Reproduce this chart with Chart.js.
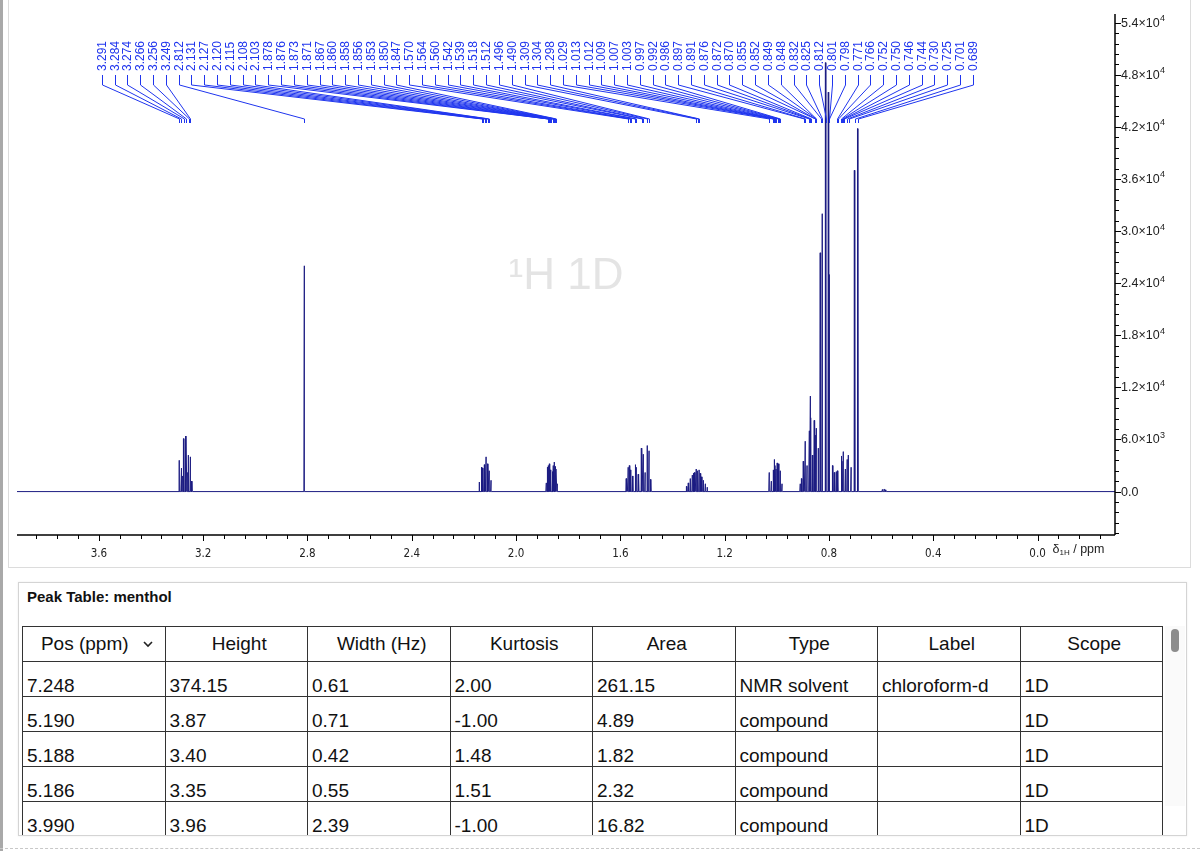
<!DOCTYPE html>
<html>
<head>
<meta charset="utf-8">
<script src="https://cdn.jsdelivr.net/npm/chart.js@4.4.1/dist/chart.umd.min.js"></script>
<style>
    html, body { margin: 0; padding: 0; }
    body {
        width: 1200px; height: 851px; position: relative; overflow: hidden;
        background: #fff; font-family: 'Liberation Sans', Arial, sans-serif; color: #111;
    }
    .window-edge { position: absolute; left: 0; top: 0; width: 3px; height: 851px; background: #a9a9a9; }
    .spectrum-panel {
        position: absolute; left: 8px; top: -1px; width: 1181px; height: 567px;
        border: 1px solid #dcdcdc; background: #fff;
    }
    .chart-box { position: absolute; left: 8px; top: 4px; width: 1182px; height: 562px; }
    .table-panel {
        position: absolute; left: 18px; top: 582px; width: 1167px; height: 252px;
        border: 1px solid #d4d4d4; background: #fff; overflow: hidden;
        box-shadow: 0 0 2px rgba(0,0,0,0.08);
    }
    .table-title { position: absolute; left: 8px; top: 5px; font-weight: bold; font-size: 15px; line-height: 18px; }
    .table-wrap { position: absolute; left: 3px; top: 43px; width: 1142px; height: 220px; overflow: hidden; }
    table { border-collapse: collapse; table-layout: fixed; width: 1141px; font-size: 19px; }
    th, td { border: 1px solid #333; overflow: hidden; white-space: nowrap; }
    th { height: 34px; padding: 0 0 0 6px; font-weight: normal; text-align: center; vertical-align: middle; line-height: 20px; }
    td { height: 21px; padding: 13px 4px 0 4px; text-align: left; vertical-align: top; line-height: 21px; }
    .chev { display: inline-block; margin-left: 14px; vertical-align: middle; }
    .scroll-track { position: absolute; left: 1146px; top: 43px; width: 20px; height: 180px; background: #fafafa; }
    .scroll-thumb { position: absolute; left: 1152px; top: 46px; width: 8px; height: 23px; border-radius: 4px; background: #8c8c8c; }
    .bottom-dash { position: absolute; left: 0; top: 848px; width: 1200px; border-top: 1px dashed #c8c8c8; }
</style>
</head>
<body>
<div class="window-edge"></div>
<div class="spectrum-panel"></div>
<div class="chart-box"><canvas id="spectrum"></canvas></div>
<div class="table-panel">
    <div class="table-title">Peak Table: menthol</div>
    <div class="table-wrap"><table id="peak-table"></table></div>
    <div class="scroll-track"></div>
    <div class="scroll-thumb"></div>
</div>
<div class="bottom-dash"></div>

<script>
// axis ranges
const xRange = [-0.297, 3.914];
const yRange = [-5000, 55000];

const xTickValues = [0.0, 0.4, 0.8, 1.2, 1.6, 2.0, 2.4, 2.8, 3.2, 3.6];
const xTickLabels = ['0.0', '0.4', '0.8', '1.2', '1.6', '2.0', '2.4', '2.8', '3.2', '3.6'];
const yTickValues = [0, 6000, 12000, 18000, 24000, 30000, 36000, 42000, 48000, 54000];
// mantissa and power of ten for each y label ('' = no exponent)
const yTickMantissa = ['0.0', '6.0', '1.2', '1.8', '2.4', '3.0', '3.6', '4.2', '4.8', '5.4'];
const yTickExponent = ['', '3', '4', '4', '4', '4', '4', '4', '4', '4'];

// picked peaks (labelled)
const peakPpm = [3.291, 3.284, 3.274, 3.266, 3.256, 3.249, 2.812, 2.131, 2.127, 2.120, 2.115, 2.108, 2.103,
    1.878, 1.876, 1.873, 1.871, 1.867, 1.860, 1.858, 1.856, 1.853, 1.850, 1.847,
    1.570, 1.564, 1.560, 1.542, 1.539, 1.518, 1.512, 1.496, 1.490, 1.309, 1.304, 1.298,
    1.029, 1.013, 1.012, 1.009, 1.007, 1.003, 0.997, 0.992, 0.986,
    0.897, 0.891, 0.876, 0.872, 0.870, 0.855, 0.852, 0.849, 0.848, 0.832, 0.825, 0.812, 0.801, 0.798,
    0.771, 0.766, 0.752, 0.750, 0.746, 0.744, 0.730, 0.725, 0.701, 0.689];
const peakHeight = [3600, 2700, 6100, 6400, 4200, 4000, 26000, 2800, 2700, 3100, 4000, 3200, 2400,
    2800, 3000, 2600, 3200, 2500, 2300, 3000, 2600, 3400, 2900, 2600,
    2800, 3000, 2500, 3100, 2800, 5000, 4300, 5300, 4700, 2600, 2400, 2500,
    2200, 2500, 2300, 3700, 3000, 2600, 3300, 3200, 2400,
    3500, 5800, 7000, 11000, 8500, 8200, 6500, 7300, 6000, 27500, 32000, 49400, 46000, 25000,
    2300, 2400, 4100, 3500, 4600, 3800, 3700, 4200, 37000, 41800];

// smaller unlabelled lines inside the multiplets
const shoulderPpm = [3.280, 3.261, 3.243, 2.140, 2.096, 1.884, 1.842, 1.576, 1.552, 1.530, 1.505, 1.483,
    1.345, 1.338, 1.331, 1.324, 1.318, 1.314, 1.292, 1.287, 1.281, 1.274, 1.266,
    1.021, 0.980, 0.910, 0.904, 0.884, 0.862, 0.840, 0.785, 0.778, 0.737, 0.715, 0.595, 0.588, 0.582];
const shoulderHeight = [1800, 2200, 1200, 1100, 1300, 1000, 900, 1500, 1800, 2000, 2200, 1400,
    600, 1000, 1500, 1900, 2100, 2200, 2100, 1700, 1300, 900, 500,
    1200, 900, 900, 1500, 3000, 4200, 5000, 3000, 2200, 2600, 2800, 250, 300, 200];

// peak table
const tableHeaders = ['Pos (ppm)', 'Height', 'Width (Hz)', 'Kurtosis', 'Area', 'Type', 'Label', 'Scope'];
const tablePos = ['7.248', '5.190', '5.188', '5.186', '3.990'];
const tableHeight = ['374.15', '3.87', '3.40', '3.35', '3.96'];
const tableWidth = ['0.61', '0.71', '0.42', '0.55', '2.39'];
const tableKurtosis = ['2.00', '-1.00', '1.48', '1.51', '-1.00'];
const tableArea = ['261.15', '4.89', '1.82', '2.32', '16.82'];
const tableType = ['NMR solvent', 'compound', 'compound', 'compound', 'compound'];
const tableLabel = ['chloroform-d', '', '', '', ''];
const tableScope = ['1D', '1D', '1D', '1D', '1D'];

const LABEL_BLUE = '#1f35ee';
const SANS = "'Liberation Sans', Arial, sans-serif";
const NARROW = "'Liberation Sans Narrow', 'DejaVu Sans Condensed', sans-serif";
const labelFirstPpm = 3.589;
const labelLastPpm = 0.248;

function buildSpectrum() {
    const lines = peakPpm.map((p, i) => ({ p, h: peakHeight[i] }))
        .concat(shoulderPpm.map((p, i) => ({ p, h: shoulderHeight[i] })))
        .sort((a, b) => a.p - b.p);
    const foot = 0.0016;
    const pts = [{ x: xRange[0], y: 0 }];
    lines.forEach((pk, i) => {
        const prev = lines[i - 1];
        const next = lines[i + 1];
        const lo = prev ? Math.max(pk.p - foot, (prev.p + pk.p) / 2) : pk.p - foot;
        const hi = next ? Math.min(pk.p + foot, (next.p + pk.p) / 2) : pk.p + foot;
        pts.push({ x: lo, y: 0 }, { x: pk.p, y: pk.h }, { x: hi, y: 0 });
    });
    pts.push({ x: xRange[1], y: 0 });
    return pts;
}

const spectrumDecor = {
    id: 'spectrumDecor',
    beforeDatasetsDraw(chart) {
        const { ctx, chartArea: a } = chart;
        // watermark
        ctx.save();
        ctx.fillStyle = '#e4e4e4';
        ctx.font = '44px ' + SANS;
        ctx.textAlign = 'center';
        ctx.textBaseline = 'middle';
        ctx.fillText('¹H 1D', (a.left + a.right) / 2, (a.top + a.bottom) / 2 + 2);
        ctx.restore();
    },
    afterDatasetsDraw(chart) {
        const { ctx, chartArea: a, scales: { x, y } } = chart;
        ctx.save();
        // axis lines
        ctx.strokeStyle = '#000';
        ctx.lineWidth = 1.5;
        ctx.beginPath();
        ctx.moveTo(a.left, a.bottom); ctx.lineTo(a.right, a.bottom);
        ctx.moveTo(a.right, a.top); ctx.lineTo(a.right, a.bottom);
        ctx.stroke();
        // x ticks every 0.08 ppm
        ctx.lineWidth = 1;
        ctx.beginPath();
        for (let k = -3; k <= 48; k++) {
            const px = Math.round(x.getPixelForValue(k * 0.08)) + 0.5;
            const len = k % 5 === 0 ? 6 : 4;
            ctx.moveTo(px, a.bottom); ctx.lineTo(px, a.bottom + len);
        }
        // y ticks every 1200
        for (let k = -4; k <= 45; k++) {
            const py = Math.round(y.getPixelForValue(k * 1200)) + 0.5;
            const len = k % 5 === 0 ? 6 : 4;
            ctx.moveTo(a.right, py); ctx.lineTo(a.right + len, py);
        }
        ctx.stroke();

        // y labels with superscript exponent
        ctx.fillStyle = '#222';
        ctx.textAlign = 'left';
        ctx.textBaseline = 'middle';
        yTickValues.forEach((v, i) => {
            const py = y.getPixelForValue(v);
            let lx = a.right + 6;
            const main = yTickExponent[i] ? yTickMantissa[i] + '×10' : yTickMantissa[i];
            ctx.font = '12.5px ' + SANS;
            ctx.fillText(main, lx, py + 0.5);
            lx += ctx.measureText(main).width + 0.5;
            if (yTickExponent[i]) {
                ctx.font = '9px ' + SANS;
                ctx.fillText(yTickExponent[i], lx, py - 4);
            }
        });

        // axis title
        const ty = a.bottom + 15;
        let tx = x.getPixelForValue(0) + 15;
        ctx.font = '12.5px ' + SANS;
        ctx.fillText('δ', tx, ty);
        tx += ctx.measureText('δ').width;
        ctx.font = '8px ' + SANS;
        ctx.fillText('1H', tx, ty + 3);
        tx += ctx.measureText('1H').width;
        ctx.font = '12.5px ' + SANS;
        ctx.fillText(' / ppm', tx, ty);

        // peak labels with connectors
        const n = peakPpm.length;
        const x0 = x.getPixelForValue(labelFirstPpm);
        const x1 = x.getPixelForValue(labelLastPpm);
        ctx.strokeStyle = LABEL_BLUE;
        ctx.fillStyle = LABEL_BLUE;
        ctx.lineWidth = 1;
        ctx.font = '12px ' + SANS;
        peakPpm.forEach((p, i) => {
            const lx = Math.round(x0 + (x1 - x0) * i / (n - 1)) + 0.5;
            const px = Math.round(x.getPixelForValue(p)) + 0.5;
            ctx.beginPath();
            ctx.moveTo(lx, 71); ctx.lineTo(lx, 81);
            ctx.lineTo(px, 115); ctx.lineTo(px, 119);
            ctx.stroke();
            ctx.save();
            ctx.translate(lx + 0.5, 67);
            ctx.rotate(-Math.PI / 2);
            ctx.textAlign = 'left';
            ctx.textBaseline = 'middle';
            ctx.fillText(p.toFixed(3), 0, 0);
            ctx.restore();
        });
        ctx.restore();
    }
};

new Chart(document.getElementById('spectrum').getContext('2d'), {
    type: 'line',
    data: {
        datasets: [{
            data: buildSpectrum(),
            borderColor: '#1c1c82',
            borderWidth: 1,
            pointRadius: 0,
            tension: 0,
            fill: false
        }]
    },
    options: {
        responsive: true,
        maintainAspectRatio: false,
        animation: false,
        events: [],
        layout: { padding: { left: 9, top: 10, right: 0, bottom: 0 } },
        plugins: { legend: { display: false }, tooltip: { enabled: false } },
        scales: {
            x: {
                type: 'linear',
                reverse: true,
                min: xRange[0],
                max: xRange[1],
                grid: { display: false, drawTicks: false },
                border: { display: false },
                afterBuildTicks: s => { s.ticks = xTickValues.map(v => ({ value: v })); },
                afterFit: s => { s.height = 31; },
                ticks: {
                    padding: 12,
                    maxRotation: 0,
                    autoSkip: false,
                    color: '#222',
                    font: { family: NARROW, size: 11.5 },
                    callback: v => xTickLabels[xTickValues.indexOf(v)] ?? ''
                }
            },
            y: {
                position: 'right',
                min: yRange[0],
                max: yRange[1],
                grid: { display: false, drawTicks: false },
                border: { display: false },
                afterBuildTicks: s => { s.ticks = yTickValues.map(v => ({ value: v })); },
                afterFit: s => { s.width = 75; },
                ticks: { display: false }
            }
        }
    },
    plugins: [spectrumDecor]
});

// peak table
function renderTable() {
    const table = document.getElementById('peak-table');
    const chevron = '<svg class="chev" width="10" height="7" viewBox="0 0 10 7"><polyline points="1,1 5,5 9,1" fill="none" stroke="#222" stroke-width="1.6"/></svg>';
    const head = tableHeaders.map((h, i) => `<th>${h}${i === 0 ? chevron : ''}</th>`).join('');
    const rows = tablePos.map((pos, r) => `
        <tr>
            <td>${pos}</td><td>${tableHeight[r]}</td><td>${tableWidth[r]}</td><td>${tableKurtosis[r]}</td>
            <td>${tableArea[r]}</td><td>${tableType[r]}</td><td>${tableLabel[r]}</td><td>${tableScope[r]}</td>
        </tr>`).join('');
    table.innerHTML = `<thead><tr>${head}</tr></thead><tbody>${rows}</tbody>`;
}
renderTable();
</script>
</body>
</html>
